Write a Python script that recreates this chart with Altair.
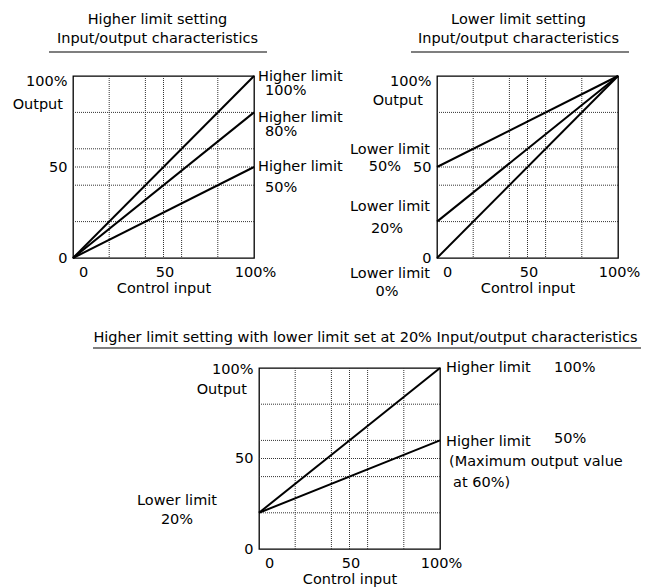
import altair as alt
import pandas as pd

FONT = "DejaVu Sans"
FS = 14.5

# ---------------- data ----------------
tick_vals = [0, 50, 100]
grid_vals = [20, 40, 50, 60, 80]
x_ends = [0, 100]

# Panel 1: higher limit setting
p1_title = ["Higher limit setting", "Input/output characteristics"]
p1_series = ["Higher limit 100%", "Higher limit 80%", "Higher limit 50%"]
p1_out_at_0 = [0, 0, 0]
p1_out_at_100 = [100, 80, 50]
p1_name_text = ["Higher limit", "Higher limit", "Higher limit"]
p1_name_y = [99.5, 77, 50]
p1_pct_text = ["100%", "80%", "50%"]
p1_pct_y = [91.5, 69, 38.5]

# Panel 2: lower limit setting
p2_title = ["Lower limit setting", "Input/output characteristics"]
p2_series = ["Lower limit 50%", "Lower limit 20%", "Lower limit 0%"]
p2_out_at_0 = [50, 20, 0]
p2_out_at_100 = [100, 100, 100]
p2_name_text = ["Lower limit", "Lower limit", "Lower limit"]
p2_name_y = [59.5, 28, -9]
p2_pct_a_text = ["50%"]
p2_pct_a_y = [50]
p2_pct_b_text = ["20%", "0%"]
p2_pct_b_y = [16, -18.5]

# Panel 3: higher limit with lower limit at 20%
p3_title = "Higher limit setting with lower limit set at 20% Input/output characteristics"
p3_series = ["Higher limit 100%", "Higher limit 50%"]
p3_out_at_0 = [20, 20]
p3_out_at_100 = [100, 60]
p3_name_text = ["Higher limit", "Higher limit"]
p3_name_y = [100, 59]
p3_pct_text = ["100%", "50%"]
p3_pct_y = [100, 61]
p3_note_a_text = ["(Maximum output value"]
p3_note_a_y = [48]
p3_note_b_text = ["at 60%)"]
p3_note_b_y = [36.5]
p3_left_text = ["Lower limit", "20%"]
p3_left_y = [26.5, 16]

output_label = "Output"
output_y = [84, 86, 88]

# ---------------- helpers ----------------
SX = alt.Scale(domain=[0, 100], nice=False, zero=False)
SY = alt.Scale(domain=[0, 100], nice=False, zero=False)
LABEL_EXPR = "datum.value == 100 ? '100%' : datum.label"


def x_axis():
    return alt.Axis(
        values=tick_vals, labelExpr=LABEL_EXPR, ticks=False, tickSize=0,
        domain=False, grid=False, labelFlush=False, labelPadding=7,
        labelOffset={"condition": {"test": "datum.value == 0", "value": 10}, "value": 1},
        title="Control input", titlePadding=3,
    )


def y_axis(top_off):
    return alt.Axis(
        values=tick_vals, labelExpr=LABEL_EXPR, ticks=False, tickSize=0,
        domain=False, grid=False, labelFlush=False, labelPadding=6,
        labelOffset={"condition": {"test": "datum.value == 100", "value": top_off}, "value": 0},
        title=None,
    )


def X(field):
    return alt.X(field, type="quantitative", scale=SX, axis=x_axis())


def Y(field, top_off):
    return alt.Y(field, type="quantitative", scale=SY, axis=y_axis(top_off))


def lines_frame(series, y0, y1):
    rows = []
    for s, a, b in zip(series, y0, y1):
        rows.append({"series": s, "x": x_ends[0], "y": a})
        rows.append({"series": s, "x": x_ends[1], "y": b})
    return pd.DataFrame(rows)


def text_layer(texts, x_anchor, ys, dx, align, top_off):
    df = pd.DataFrame({"t": texts, "x": [x_anchor] * len(texts), "y": ys})
    return alt.Chart(df).mark_text(
        font=FONT, fontSize=FS, color="black", align=align, baseline="middle", dx=dx
    ).encode(x=X("x"), y=Y("y", top_off), text="t:N")


def base_layers(series, y0, y1, top_off):
    gv = alt.Chart(pd.DataFrame({"g": grid_vals})).mark_rule(
        color="#333", strokeDash=[1, 1], strokeWidth=1
    ).encode(x=X("g"))
    gh = alt.Chart(pd.DataFrame({"g": grid_vals})).mark_rule(
        color="#333", strokeDash=[1, 1], strokeWidth=1
    ).encode(y=Y("g", top_off))
    ln = alt.Chart(lines_frame(series, y0, y1)).mark_line(
        color="black", strokeWidth=2
    ).encode(x=X("x"), y=Y("y", top_off), detail="series:N")
    return [gv, gh, ln]


def underline(x1, x2, yv):
    return alt.Chart(pd.DataFrame({"u": [0]})).mark_rule(
        color="black", strokeWidth=1.2
    ).encode(x=alt.value(x1), x2=alt.value(x2), y=alt.value(yv))


def spacer(w, h):
    return alt.Chart(pd.DataFrame({"s": [0]})).mark_rect(opacity=0).encode(
        x=alt.value(1), x2=alt.value(2), y=alt.value(1), y2=alt.value(2)
    ).properties(width=w, height=h, view=alt.ViewBackground(stroke="transparent"))


FRAME = alt.ViewBackground(stroke="black", strokeWidth=1.3)

# ---------------- panel 1 ----------------
t1 = 5
p1 = alt.layer(
    *base_layers(p1_series, p1_out_at_0, p1_out_at_100, t1),
    text_layer(p1_name_text, 100, p1_name_y, 4, "left", t1),
    text_layer(p1_pct_text, 100, p1_pct_y, 11, "left", t1),
    text_layer([output_label], 0, [output_y[0]], -10, "right", t1),
    underline(-24, 194, -24),
).properties(
    width=181, height=182, view=FRAME,
    title=alt.TitleParams(text=p1_title, offset=5, dx=-6, lineHeight=19,
                          anchor="middle", frame="group"),
)

# ---------------- panel 2 ----------------
t2 = 5
p2 = alt.layer(
    *base_layers(p2_series, p2_out_at_0, p2_out_at_100, t2),
    text_layer(p2_name_text, 0, p2_name_y, -7, "right", t2),
    text_layer(p2_pct_a_text, 0, p2_pct_a_y, -36, "right", t2),
    text_layer(p2_pct_b_text, 0, p2_pct_b_y, -50, "center", t2),
    text_layer([output_label], 0, [output_y[1]], -14, "right", t2),
    underline(-26, 192, -24),
).properties(
    width=181, height=182, view=FRAME,
    title=alt.TitleParams(text=p2_title, offset=5, dx=-9, lineHeight=19,
                          anchor="middle", frame="group"),
)

# ---------------- panel 3 ----------------
t3 = 1
p3 = alt.layer(
    *base_layers(p3_series, p3_out_at_0, p3_out_at_100, t3),
    text_layer(p3_name_text, 100, p3_name_y, 6, "left", t3),
    text_layer(p3_pct_text, 100, p3_pct_y, 114, "left", t3),
    text_layer(p3_note_a_text, 100, p3_note_a_y, 9, "left", t3),
    text_layer(p3_note_b_text, 100, p3_note_b_y, 13, "left", t3),
    text_layer(p3_left_text, 0, p3_left_y, -82, "center", t3),
    text_layer([output_label], 0, [output_y[2]], -12, "right", t3),
    underline(-166, 382, -20),
).properties(
    width=181, height=181, view=FRAME,
    title=alt.TitleParams(text=p3_title, offset=2, dx=16, anchor="middle", frame="group"),
)

row1 = alt.hconcat(spacer(72, 182), p1, spacer(183, 182), p2, spacing=0, bounds="flush")
row2 = alt.hconcat(spacer(258, 181), p3, spacing=0, bounds="flush")

chart = alt.vconcat(row1, row2, spacing=30).properties(
    padding={"left": 0, "top": 11, "right": 0, "bottom": 0}
).configure_view(stroke="transparent").configure_axis(
    labelFont=FONT, labelFontSize=FS, labelColor="black",
    titleFont=FONT, titleFontSize=FS, titleFontWeight="normal", titleColor="black",
).configure_title(
    font=FONT, fontSize=FS, fontWeight="normal", color="black",
)

chart.save("out.html", embed_options={"renderer": "svg", "actions": False})
